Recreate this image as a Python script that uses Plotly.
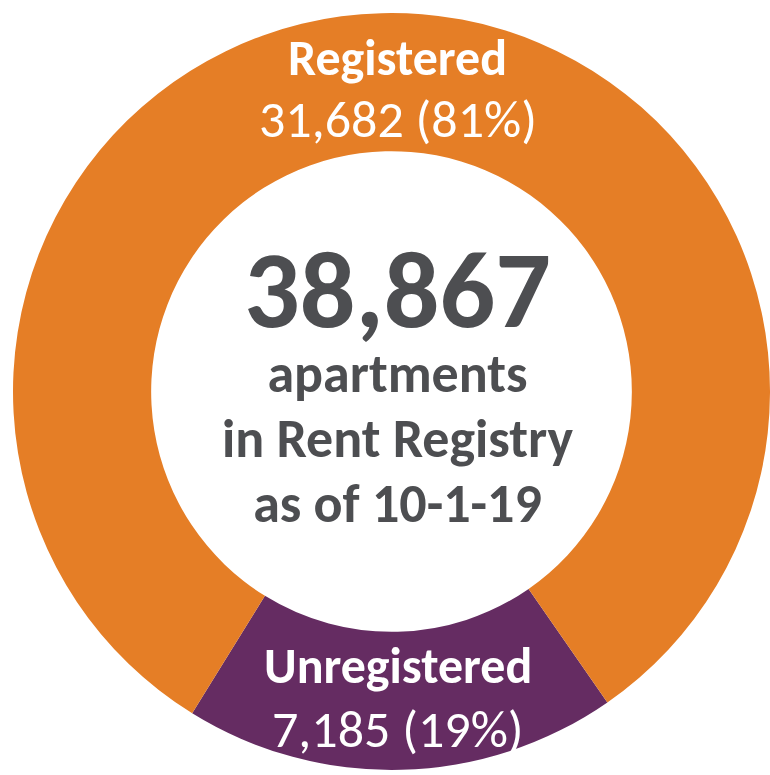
import plotly.graph_objects as go

# Data
labels = ["Unregistered", "Registered"]
values = [7185, 31682]
pct_labels = [19, 81]  # percentages as printed on the chart
colors = ["#652C62", "#E57E26"]
total = sum(values)
center_number = f"{total:,}"
center_lines = ["apartments", "in Rent Registry", "as of 10-1-19"]

W, H = 770, 775
FONT = "Carlito, Lato, 'Open Sans', sans-serif"
GRAY = "#4D4E51"

share_deg = values[0] / total * 360

fig = go.Figure(
    go.Pie(
        labels=labels,
        values=values,
        marker=dict(colors=colors, line=dict(width=0)),
        hole=0.635,
        sort=False,
        direction="clockwise",
        rotation=180 - share_deg / 2 - 1.5,
        textinfo="none",
        hoverinfo="label+value+percent",
        showlegend=False,
        domain=dict(x=[13 / W, 1], y=[0, 1 - 8 / H]),
    )
)

def px(x, y):
    return x / W, 1 - y / H

ann = []
# Ring labels
for name, v, p, (cx, cy_name, cy_val) in [
    (labels[1], values[1], pct_labels[1], (398, 58, 119)),
    (labels[0], values[0], pct_labels[0], (398, 665, 729)),
]:
    x, y = px(cx, cy_name)
    ann.append(dict(x=x, y=y, xref="paper", yref="paper", text=f"<b>{name}</b>",
                    showarrow=False, font=dict(family=FONT, size=50, color="white"),
                    xanchor="center", yanchor="middle"))
    x, y = px(cx, cy_val)
    ann.append(dict(x=x, y=y, xref="paper", yref="paper", text=f"{v:,} ({p}%)",
                    showarrow=False, font=dict(family=FONT, size=52, color="white"),
                    xanchor="center", yanchor="middle"))

# Center text block (single annotation so the lines share one box)
center_text = (
    f"<span style='font-size:110px'><b>{center_number}</b></span><br>"
    + "<br>".join(f"<span style='font-size:54px'><b>{ln}</b></span>" for ln in center_lines)
)
x, y = px(398, 380)
ann.append(dict(x=x, y=y, xref="paper", yref="paper", text=center_text,
                showarrow=False, font=dict(family=FONT, size=50, color=GRAY),
                xanchor="center", yanchor="middle", align="center"))

fig.update_layout(
    width=W, height=H,
    margin=dict(l=0, r=0, t=0, b=0),
    paper_bgcolor="white",
    plot_bgcolor="white",
    annotations=ann,
)

fig.write_html("out.html")
